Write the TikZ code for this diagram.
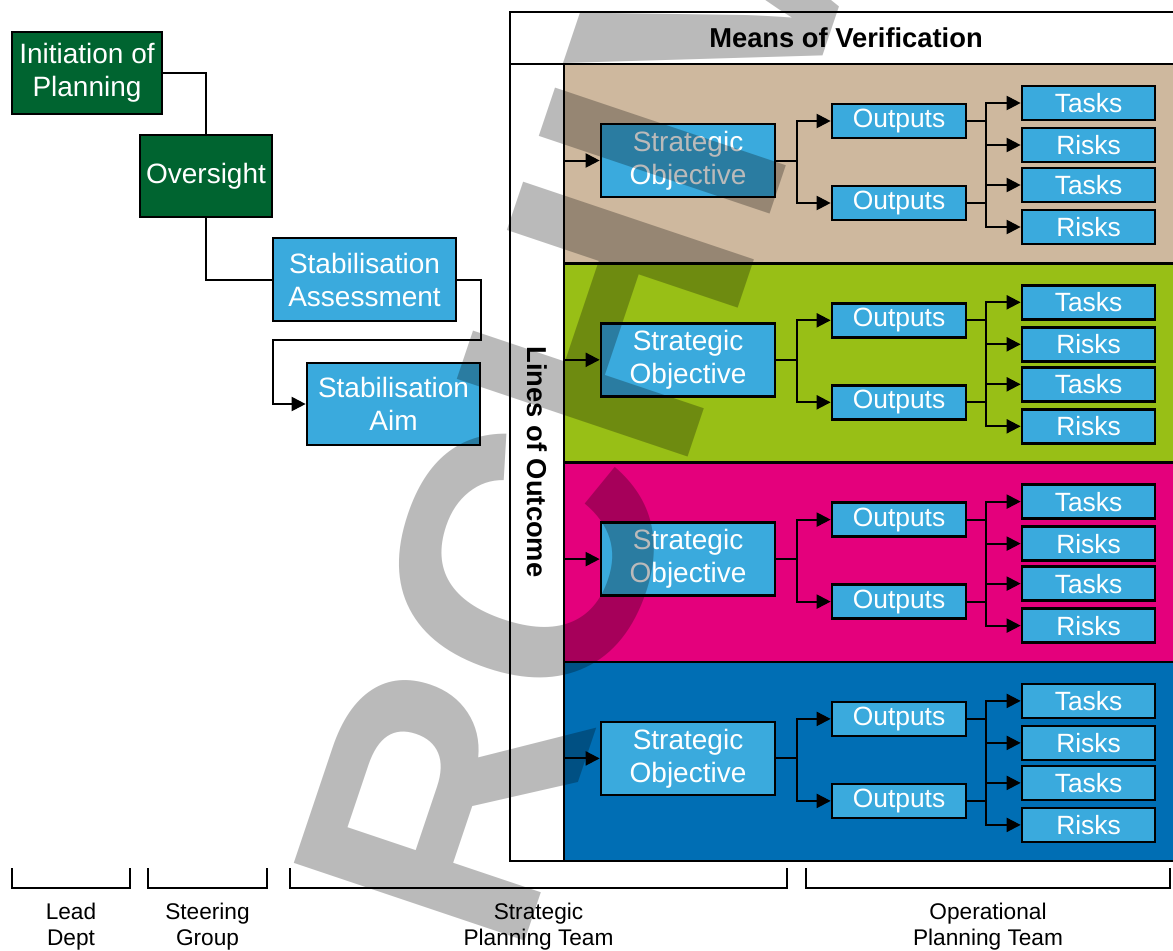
\documentclass[tikz,border=0pt]{standalone}
\usepackage{fontspec}
\setmainfont{Liberation Sans}
\usetikzlibrary{arrows.meta}

\definecolor{darkgreen}{RGB}{0,100,48}
\definecolor{boxblue}{RGB}{58,170,221}
\definecolor{bandbrown}{RGB}{206,184,158}
\definecolor{bandgreen}{RGB}{152,191,22}
\definecolor{bandpink}{RGB}{228,0,124}
\definecolor{bandblue}{RGB}{0,110,180}

\tikzset{
  box/.style={draw=black, line width=2pt, text=white, align=center, inner sep=0pt, font=\fontsize{21}{24.75}\selectfont},
  greenbox/.style={box, fill=darkgreen},
  bluebox/.style={box, fill=boxblue},
  outbox/.style={bluebox, minimum width=100.5pt, minimum height=25.5pt, font=\fontsize{19.8}{24}\selectfont},
  leafbox/.style={bluebox, minimum width=99.75pt, minimum height=25.5pt, font=\fontsize{19.8}{24}\selectfont},
  conn/.style={line width=1.5pt},
  arr/.style={conn, -{Triangle[length=10.5pt,width=10.5pt]}},
  frame/.style={line width=1.8pt},
  heading/.style={font=\fontsize{20.5}{24}\selectfont\bfseries},
  teamlabel/.style={align=center, inner sep=0pt, font=\fontsize{17}{19.5}\selectfont},
  wmark/.style={text=black, text opacity=0.27, inner sep=0pt, font=\fontsize{265.5}{265.5}\selectfont\bfseries},
}

\begin{document}
\begin{tikzpicture}[x=0.75pt,y=-0.75pt]
\useasboundingbox (0,0) rectangle (1173,950);

%Bands of the outcome table
\foreach \c [count=\i from 0] in {bandbrown,bandgreen,bandpink,bandblue}{
  \pgfmathsetmacro\dy{199.3*\i}
  \draw[frame, fill=\c] (564,64+\dy) rectangle (1182,263.3+\dy);
}
%Outer frame
\draw[frame] (510,12) rectangle (1182,861);
\draw[frame] (510,64) -- (1182,64);
\draw[frame] (564,64) -- (564,861);
\node[heading] (mov) at (846,38) {Means of Verification};
\node[heading, rotate=-90] (loo) at (537,462) {Lines of Outcome};

%Planning chain
\node[greenbox, minimum width=112.5pt, minimum height=61.5pt] (init) at (87,73) {Initiation of\\Planning};
\node[greenbox, minimum width=99pt, minimum height=61.5pt] (over) at (206,176) {Oversight};
\node[bluebox, minimum width=137.25pt, minimum height=62.25pt] (assess) at (364.5,279.5) {Stabilisation\\Assessment};
\node[bluebox, minimum width=129.75pt, minimum height=61.5pt] (aim) at (393.5,404) {Stabilisation\\Aim};
\coordinate (bend) at (273,340);

\draw[conn] (init.east) -| (over.north);
\draw[conn] (over.south) |- (assess.west);
\draw[arr] (assess.east) -- ++(24,0) |- (bend) |- (aim.west);

%Objectives, outputs, tasks and risks
\foreach \i in {0,...,3}{
  \pgfmathsetmacro\dy{199.3*\i}
  \node[bluebox, minimum width=130.5pt, minimum height=54.75pt] (so\i) at (688,160.5+\dy) {Strategic\\Objective};
  \node[outbox] (oa\i) at (899,121+\dy) {Outputs};
  \node[outbox] (ob\i) at (899,203+\dy) {Outputs};
  \node[leafbox] (ta\i) at (1088.5,103+\dy) {Tasks};
  \node[leafbox] (ra\i) at (1088.5,145+\dy) {Risks};
  \node[leafbox] (tb\i) at (1088.5,185+\dy) {Tasks};
  \node[leafbox] (rb\i) at (1088.5,227+\dy) {Risks};
  \coordinate (lo\i) at (564,160.5+\dy);

  \draw[arr] (lo\i) -- (so\i.west);
  \draw[conn] (so\i.east) -- ++(21,0) coordinate (f\i);
  \draw[arr] (f\i) |- (oa\i.west);
  \draw[arr] (f\i) |- (ob\i.west);
  \draw[conn] (oa\i.east) -- ++(19,0) coordinate (ga\i);
  \draw[conn] (ob\i.east) -- ++(19,0) coordinate (gb\i);
  \draw[arr] (ga\i) |- (ta\i.west);
  \draw[arr] (ga\i) |- (ra\i.west);
  \draw[arr] (gb\i) |- (tb\i.west);
  \draw[arr] (gb\i) |- (rb\i.west);
  \draw[conn] (ga\i |- ra\i.west) -- (gb\i |- tb\i.west);
}

%Team brackets
\foreach \a/\b/\t [count=\k] in {12/130/{Lead\\Dept}, 148/267/{Steering\\Group}, 290/787/{Strategic\\Planning Team}, 806/1170/{Operational\\Planning Team}}{
  \draw[conn] (\a,868) |- (\b,888) -- (\b,868);
  \node[teamlabel, anchor=north] (team\k) at ({(\a+\b)/2},903) {\t};
}

%Watermark
\begin{scope}
\clip (0,0) rectangle (1173,950);
\node[wmark, anchor=base west, rotate=71.4] (stamp) at (436,1206) {ARCHIVED};
\end{scope}

\end{tikzpicture}
\end{document}
